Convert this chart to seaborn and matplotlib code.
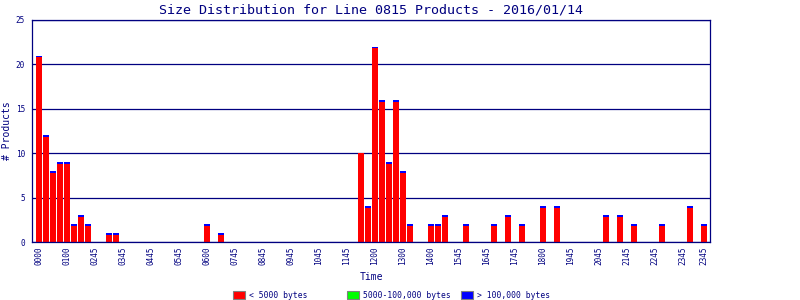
import matplotlib
matplotlib.use("Agg")
import matplotlib.pyplot as plt
import seaborn as sns
import pandas as pd
import numpy as np
from matplotlib.patches import Rectangle

# ---- data ----
slots = [f"{h:02d}{m:02d}" for h in range(24) for m in (0, 15, 30, 45)]  # 96 quarter-hour slots

small = [21, 12, 8, 9, 9, 2, 3, 2, 0, 0, 1, 1, 0, 0, 0, 0,
         0, 0, 0, 0, 0, 0, 0, 0, 2, 0, 1, 0, 0, 0, 0, 0,
         0, 0, 0, 0, 0, 0, 0, 0, 0, 0, 0, 0, 0, 0, 10, 4,
         22, 16, 9, 16, 8, 2, 0, 0, 2, 2, 3, 0, 0, 2, 0, 0,
         0, 2, 0, 3, 0, 2, 0, 0, 4, 0, 4, 0, 0, 0, 0, 0,
         0, 3, 0, 3, 0, 2, 0, 0, 0, 2, 0, 0, 0, 4, 0, 2]
medium = [0] * 96
large = [0.2 if (v > 0 and i != 46) else 0 for i, v in enumerate(small)]

tick_pos = [0, 4, 8, 12, 16, 20, 24, 28, 32, 36, 40, 44, 48, 52, 56, 60,
            64, 68, 72, 76, 80, 84, 88, 92, 95]
tick_labels = ["0000", "0100", "0245", "0345", "0445", "0545", "0600", "0745",
               "0845", "0945", "1045", "1145", "1200", "1300", "1400", "1545",
               "1645", "1745", "1800", "1945", "2045", "2145", "2245", "2345", "2345"]

series_names = ["< 5000 bytes", "5000-100,000 bytes", "> 100,000 bytes"]
series_colors = ["#FF0000", "#00FF00", "#0000FF"]

df = pd.DataFrame({"Time": slots, "small": small, "medium": medium, "large": large})
df["c1"] = df["small"] - df["large"]
df["c2"] = df["c1"] + df["medium"]
df["c3"] = df["c2"] + df["large"]

# ---- style ----
sns.set_theme(style="white")
NAVY = "#000080"
plt.rcParams["font.family"] = ["DejaVu Sans Mono", "DejaVu Sans"]
plt.rcParams["text.color"] = NAVY
plt.rcParams["axes.labelcolor"] = NAVY
plt.rcParams["xtick.color"] = NAVY
plt.rcParams["ytick.color"] = NAVY

fig = plt.figure(figsize=(8, 3), dpi=100)
ax = fig.add_axes([32 / 800, 1 - 242 / 300, (710 - 32) / 800, (242 - 20) / 300])

for col, color in zip(["c3", "c2", "c1"], series_colors[::-1]):
    sns.barplot(data=df, x="Time", y=col, color=color, saturation=1,
                width=0.86, errorbar=None, linewidth=0, ax=ax, order=slots)
for p in ax.patches:
    p.set_antialiased(False)

ax.set_xlim(-1, 95.86)
ax.set_ylim(0, 25)
ax.set_yticks([0, 5, 10, 15, 20, 25])
ax.set_yticklabels(["0", "5", "10", "15", "20", "25"], fontsize=5.6)
ax.set_xticks(tick_pos)
ax.set_xticklabels(tick_labels, rotation=90, fontsize=5.6)
ax.tick_params(axis="both", length=0)
ax.tick_params(axis="y", pad=5)
ax.tick_params(axis="x", pad=3.5)

ax.set_axisbelow(True)
ax.yaxis.grid(True, color=NAVY, linewidth=0.9)
ax.xaxis.grid(False)
for s in ax.spines.values():
    s.set_color(NAVY)
    s.set_linewidth(0.9)

ax.set_title("Size Distribution for Line 0815 Products - 2016/01/14",
             fontsize=9.6, color=NAVY, pad=5)
ax.set_xlabel("Time", fontsize=7, labelpad=5)
ax.set_ylabel("# Products", fontsize=7, labelpad=3)

# ---- legend (fixed-width columns) ----
box_x = [233, 347, 461]
for x, name, color in zip(box_x, series_names, series_colors):
    fig.add_artist(Rectangle((x / 800, 1 - 299 / 300), 12 / 800, 8 / 300,
                             transform=fig.transFigure, facecolor=color,
                             edgecolor="#808080", linewidth=0.8))
    fig.text((x + 16) / 800, 1 - 295 / 300, name, fontsize=5.8, color=NAVY,
             va="center", ha="left")

fig.savefig("out.png", dpi=100)
